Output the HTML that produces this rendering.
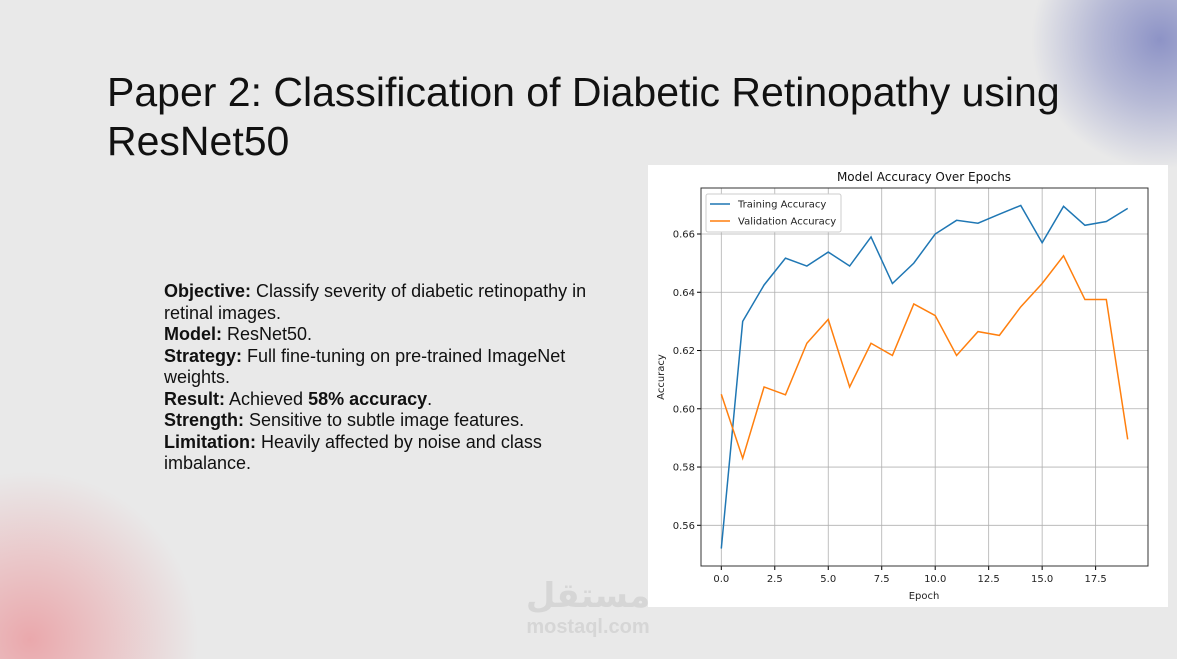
<!DOCTYPE html>
<html><head><meta charset="utf-8"><style>
html,body{margin:0;width:1177px;height:659px;overflow:hidden;}
body{background:#e9e9e9;position:relative;font-family:"Liberation Sans",sans-serif;}
.bg{position:absolute;left:0;top:0;width:1177px;height:659px;overflow:hidden;}
.blob1{position:absolute;left:1030px;top:-90px;width:260px;height:260px;border-radius:50%;background:radial-gradient(circle,#8d93c6 0%,rgba(141,147,198,0.55) 35%,rgba(233,233,233,0) 70%);}
.blob2{position:absolute;left:-140px;top:470px;width:340px;height:340px;border-radius:50%;background:radial-gradient(circle,#eaa8ac 0%,rgba(234,168,172,0.5) 35%,rgba(233,233,233,0) 70%);}
h1{position:absolute;left:107px;top:68px;margin:0;font-weight:normal;font-size:41px;line-height:49px;color:#111;white-space:nowrap;}
.txt{position:absolute;left:164px;top:281px;width:468px;font-size:18px;line-height:21.5px;color:#111;}
.chart{position:absolute;left:648px;top:165px;width:520px;height:442px;background:#fff;}
.wm{position:absolute;left:512px;top:577px;width:152px;color:#d6d6d6;font-weight:bold;text-align:center;}
</style></head><body>
<div class="bg">
<div class="blob1"></div>
<div class="blob2"></div>
</div>
<h1>Paper 2: Classification of Diabetic Retinopathy using<br>ResNet50</h1>
<div class="txt">
<b>Objective:</b> Classify severity of diabetic retinopathy in retinal images.<br>
<b>Model:</b> ResNet50.<br>
<b>Strategy:</b> Full fine-tuning on pre-trained ImageNet weights.<br>
<b>Result:</b> Achieved <b>58% accuracy</b>.<br>
<b>Strength:</b> Sensitive to subtle image features.<br>
<b>Limitation:</b> Heavily affected by noise and class imbalance.
</div>
<div class="chart">
<svg id="svg" width="520" height="442" font-family="DejaVu Sans, sans-serif"></svg>
</div>
<div class="wm"><div style="font-size:34px;line-height:38px;font-family:'DejaVu Sans',sans-serif">مستقل</div><div style="font-size:20px;line-height:24px;">mostaql.com</div></div>
<script>
const epochs=[0,1,2,3,4,5,6,7,8,9,10,11,12,13,14,15,16,17,18,19];
const trainAcc=[0.552,0.630,0.6425,0.6517,0.649,0.6538,0.649,0.659,0.643,0.650,0.660,0.6647,0.6637,0.6668,0.6698,0.657,0.6695,0.663,0.6643,0.6688];
const valAcc=[0.605,0.583,0.6075,0.6048,0.6225,0.6307,0.6075,0.6225,0.6183,0.636,0.632,0.6183,0.6265,0.6252,0.635,0.643,0.6525,0.6375,0.6375,0.5895];
const xTicks=[0,2.5,5,7.5,10,12.5,15,17.5];
const xTickLabels=["0.0","2.5","5.0","7.5","10.0","12.5","15.0","17.5"];
const yTicks=[0.56,0.58,0.60,0.62,0.64,0.66];
const yTickLabels=["0.56","0.58","0.60","0.62","0.64","0.66"];
const svg=document.getElementById('svg');const NS='http://www.w3.org/2000/svg';
const L=53,R=500,T=23,B=401;
const xs=v=>73.3+v*21.39;
const ys=v=>69+(0.66-v)*2913;
function mk(tag,attrs,parent){const e=document.createElementNS(NS,tag);for(const k in attrs)e.setAttribute(k,attrs[k]);(parent||svg).appendChild(e);return e;}
xTicks.forEach((t,i)=>{const g=mk('line',{x1:xs(t),x2:xs(t),y1:T,y2:B,stroke:'#b0b0b0','stroke-width':0.8});


mk('line',{x1:xs(t),x2:xs(t),y1:B,y2:B+4,stroke:'#000'});
const tx=mk('text',{x:xs(t),y:B+16,'font-size':10,'text-anchor':'middle',fill:'#222'});tx.textContent=xTickLabels[i];

});
yTicks.forEach((t,i)=>{const g=mk('line',{x1:L,x2:R,y1:ys(t),y2:ys(t),stroke:'#b0b0b0','stroke-width':0.8});


mk('line',{x1:L-4,x2:L,y1:ys(t),y2:ys(t),stroke:'#000'});
const tx=mk('text',{x:L-6,y:ys(t)+3.5,'font-size':10,'text-anchor':'end',fill:'#222'});tx.textContent=yTickLabels[i];

});
function line(data,color,name){const p=mk('polyline',{points:data.map((v,i)=>xs(epochs[i])+','+ys(v)).join(' '),fill:'none',stroke:color,'stroke-width':1.5});

}
line(trainAcc,'#1f77b4','training-accuracy-line');
line(valAcc,'#ff7f0e','validation-accuracy-line');
const box=mk('rect',{x:L,y:T,width:R-L,height:B-T,fill:'none',stroke:'#333','stroke-width':1});


const lg=mk('rect',{x:58,y:29,width:135,height:38,fill:'#fff',stroke:'#ccc',rx:2});


[['Training Accuracy','#1f77b4',39],['Validation Accuracy','#ff7f0e',56]].forEach(([t,c,y])=>{mk('line',{x1:62,x2:82,y1:y,y2:y,stroke:c,'stroke-width':1.5});
const tx=mk('text',{x:90,y:y+3.5,'font-size':10,fill:'#222'});tx.textContent=t;

});
const ti=mk('text',{x:276,y:16,'font-size':12,'text-anchor':'middle',fill:'#111'});ti.textContent='Model Accuracy Over Epochs';


const xl=mk('text',{x:276,y:434,'font-size':10,'text-anchor':'middle',fill:'#222'});xl.textContent='Epoch';


const yl=mk('text',{x:16,y:212,'font-size':10,'text-anchor':'middle',fill:'#222',transform:'rotate(-90 16 212)'});yl.textContent='Accuracy';


</script>
</body></html>
